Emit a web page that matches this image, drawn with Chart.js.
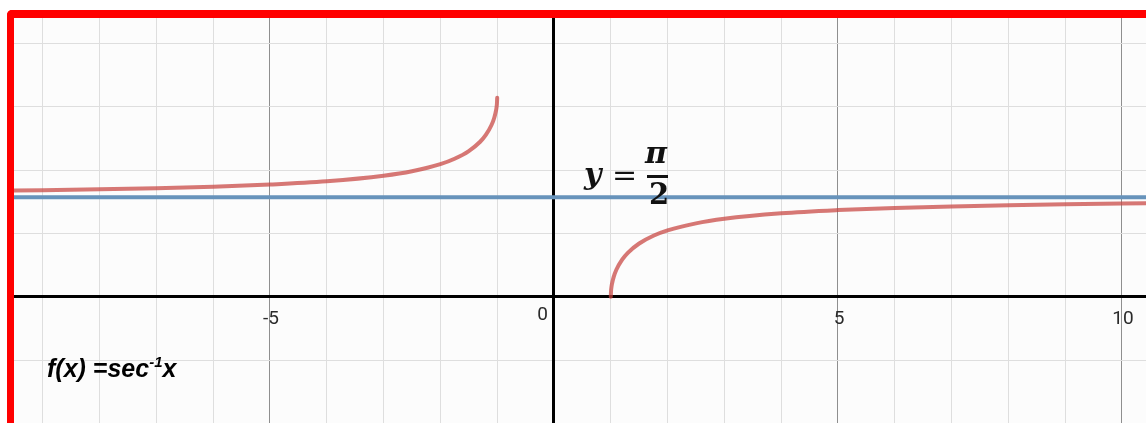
<!DOCTYPE html>
<html>
<head>
<meta charset="utf-8">
<script src="https://cdn.jsdelivr.net/npm/chart.js@4.4.0/dist/chart.umd.min.js"></script>
<style>
  html, body { margin: 0; padding: 0; background: #fff; overflow: hidden; }
  body { width: 1146px; height: 423px; position: relative; }
  #frame {
    position: absolute; left: 7px; top: 10px; width: 1200px; height: 480px;
    border-left: 7px solid #ff0000; border-top: 8px solid #ff0000;
    border-top-left-radius: 5px; background: #fcfcfc;
  }
  #wrap { position: absolute; left: 14px; top: 18px; width: 1132px; height: 405px; }
  .lbl { position: absolute; line-height: 1; color: #111; white-space: nowrap; }
  .serif { font-family: "DejaVu Serif", serif; }
  #fx { font-family: "Liberation Sans", Arial, sans-serif; font-weight: bold; font-style: italic; font-size: 25px; color: #000; }
  #fx .sup { font-size: 15px; position: relative; top: -10px; }
</style>
</head>
<body>
<div id="frame"></div>
<div id="wrap"><canvas id="secChart"></canvas></div>

<span class="lbl serif" style="left:584px; top:159px; font-size:30px; font-weight:bold; font-style:italic;">y</span>
<span class="lbl serif" style="left:612px; top:160px; font-size:30px;">=</span>
<span class="lbl serif" style="left:645px; top:138px; font-size:30px; font-weight:bold; font-style:italic;">π</span>
<div style="position:absolute; left:647px; top:175px; width:21px; height:3px; background:#111;"></div>
<span class="lbl serif" style="left:649px; top:180px; font-size:29px; font-weight:bold;">2</span>

<div id="fx" class="lbl" style="left:47px; top:356px;">f(x) =sec<span class="sup">-1</span>x</div>

<script>
// visible window of the graph
const xMin = -9.507, xMax = 10.423;
const yMin = -1.995, yMax = 4.403;

// left branch, x <= -1
const leftX = [-10, -9, -8, -7, -6, -5, -4, -3, -2.5, -2, -1.75, -1.5, -1.3, -1.2, -1.1, -1.05, -1.02, -1.01, -1.005, -1];
const leftY = [1.671, 1.682, 1.696, 1.714, 1.738, 1.772, 1.823, 1.911, 1.982, 2.094, 2.179, 2.301, 2.448, 2.556, 2.712, 2.832, 2.943, 3.001, 3.042, 3.142];

// right branch, x >= 1
const rightX = [1, 1.005, 1.01, 1.02, 1.05, 1.1, 1.2, 1.3, 1.5, 1.75, 2, 2.5, 3, 4, 5, 6, 7, 8, 9, 10, 11];
const rightY = [0, 0.100, 0.141, 0.198, 0.310, 0.430, 0.586, 0.694, 0.841, 0.963, 1.047, 1.159, 1.231, 1.318, 1.369, 1.403, 1.427, 1.446, 1.460, 1.471, 1.480];

// asymptote y = pi/2
const asymX = [-12, 12];
const asymY = [1.5708, 1.5708];

const xTickValues = [-5, 0, 5, 10];
const xTickLabels = ['-5', '0', '5', '10'];

const toPoints = (xs, ys) => xs.map((x, i) => ({ x: x, y: ys[i] }));

// axis numbers drawn under the x axis line, desmos style
const axisNumbers = {
    id: 'axisNumbers',
    afterDraw(chart) {
        const ctx = chart.ctx;
        const xs = chart.scales.x, ys = chart.scales.y;
        const y0 = ys.getPixelForValue(0);
        ctx.save();
        ctx.font = '19px Roboto';
        ctx.fillStyle = '#2a2a2a';
        ctx.textBaseline = 'alphabetic';
        xTickValues.forEach((v, i) => {
            const px = xs.getPixelForValue(v);
            if (v === 0) {
                ctx.textAlign = 'right';
                ctx.fillText(xTickLabels[i], px - 6, y0 + 23);
            } else {
                ctx.textAlign = 'center';
                ctx.fillText(xTickLabels[i], px + 1, y0 + 27);
            }
        });
        ctx.restore();
    }
};

new Chart(document.getElementById('secChart').getContext('2d'), {
    type: 'scatter',
    data: {
        datasets: [
            {
                data: toPoints(asymX, asymY),
                showLine: true, borderColor: '#6793bb', borderWidth: 4,
                pointRadius: 0, tension: 0
            },
            {
                data: toPoints(leftX, leftY),
                showLine: true, borderColor: 'rgba(199, 68, 64, 0.72)', borderWidth: 4,
                pointRadius: 0, cubicInterpolationMode: 'monotone', borderCapStyle: 'round'
            },
            {
                data: toPoints(rightX, rightY),
                showLine: true, borderColor: 'rgba(199, 68, 64, 0.72)', borderWidth: 4,
                pointRadius: 0, cubicInterpolationMode: 'monotone', borderCapStyle: 'round'
            }
        ]
    },
    options: {
        responsive: true,
        maintainAspectRatio: false,
        animation: false,
        layout: { padding: 0 },
        plugins: { legend: { display: false }, tooltip: { enabled: false } },
        scales: {
            x: {
                type: 'linear',
                min: xMin, max: xMax,
                position: { y: 0 },
                ticks: { display: false, stepSize: 1, includeBounds: false },
                grid: {
                    drawTicks: false,
                    color: ctx => (ctx.tick && ctx.tick.value % 5 === 0) ? '#8f8f8f' : '#dedede',
                    lineWidth: 1
                },
                border: { display: true, color: '#000', width: 3 }
            },
            y: {
                type: 'linear',
                min: yMin, max: yMax,
                position: { x: 0 },
                ticks: { display: false, stepSize: 1, includeBounds: false },
                grid: { drawTicks: false, color: '#dedede', lineWidth: 1 },
                border: { display: true, color: '#000', width: 3 }
            }
        }
    },
    plugins: [axisNumbers]
});
</script>
</body>
</html>
